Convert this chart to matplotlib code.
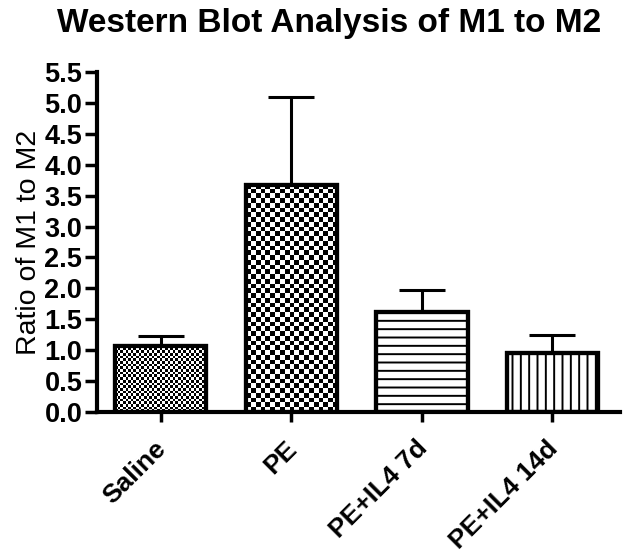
import numpy as np
import matplotlib
matplotlib.use("Agg")
import matplotlib.pyplot as plt
from matplotlib.transforms import ScaledTranslation

# data
groups = ["Saline", "PE", "PE+IL4 7d", "PE+IL4 14d"]
ratio = [1.07, 3.68, 1.61, 0.96]
sem = [0.15, 1.42, 0.37, 0.29]

# fill style per bar: ("checker", cell px) or ("hatch", pattern)
fills = [("checker", 2.6), ("checker", 4.7), ("hatch", "--"), ("hatch", "||")]

plt.rcParams["font.family"] = ["Liberation Sans", "DejaVu Sans"]
plt.rcParams["hatch.linewidth"] = 1.4
plt.rcParams["hatch.color"] = "black"

fig = plt.figure(figsize=(6.29, 5.55), dpi=100)
ax = fig.add_axes([0.154, 0.258, 0.832, 0.612])

x = np.arange(len(groups))
ax.set_xlim(-0.49, 3.52)
ax.set_ylim(0, 5.5)

bars = ax.bar(x, ratio, width=0.7, color="white", edgecolor="black",
              linewidth=3.0, zorder=2)

# pixels per data unit, for the checker fills
t = ax.transData
px_x = t.transform((1, 0))[0] - t.transform((0, 0))[0]
px_y = t.transform((0, 1))[1] - t.transform((0, 0))[1]

for bar, (kind, arg) in zip(bars, fills):
    if kind == "hatch":
        bar.set_hatch(arg)
        continue
    x0, w, h = bar.get_x(), bar.get_width(), bar.get_height()
    nc = max(1, int(round(w * px_x / arg)))
    nr = max(1, int(round(h * px_y / arg)))
    board = (np.add.outer(np.arange(nr), np.arange(nc)) % 2).astype(float)
    im = ax.imshow(board, cmap="gray", vmin=0, vmax=1, interpolation="nearest",
                   extent=(x0, x0 + w, 0, h), aspect="auto", zorder=2.5)
    im.set_clip_path(bar)

# put the edge back on top of the image
for bar in bars:
    ax.add_patch(plt.Rectangle((bar.get_x(), 0), bar.get_width(), bar.get_height(),
                               fill=False, edgecolor="black", linewidth=3.0, zorder=3))

ax.errorbar(x, ratio, yerr=[np.zeros(len(sem)), sem], fmt="none", ecolor="black",
            elinewidth=2.2, capsize=16.5, capthick=2.2, zorder=1)

ax.set_xlim(-0.49, 3.52)
ax.set_ylim(0, 5.5)
ax.set_aspect("auto")

ax.spines["top"].set_visible(False)
ax.spines["right"].set_visible(False)
ax.spines["left"].set_linewidth(3)
ax.spines["bottom"].set_linewidth(3)

yt = np.arange(0, 5.51, 0.5)
ax.set_yticks(yt)
ax.set_yticklabels([f"{v:.1f}" for v in yt], fontsize=19.5, fontweight="bold")
ax.set_xticks(x)
ax.set_xticklabels(groups, fontsize=19, fontweight="bold", rotation=45,
                   ha="right", va="top", rotation_mode="anchor")
ax.tick_params(axis="y", direction="out", length=8.5, width=2.5, pad=2)
ax.tick_params(axis="x", direction="out", length=7.5, width=2.5, pad=8)

# nudge the slanted labels a little down-left
shift = ScaledTranslation(-7 / 100, -3 / 100, fig.dpi_scale_trans)
for lab in ax.get_xticklabels():
    lab.set_transform(lab.get_transform() + shift)

ax.set_ylabel("Ratio of M1 to M2", fontsize=20.5, labelpad=2)
fig.text(0.523, 0.942, "Western Blot Analysis of M1 to M2", fontsize=24,
         fontweight="bold", ha="center", va="baseline")

fig.savefig("out.png", dpi=100)
